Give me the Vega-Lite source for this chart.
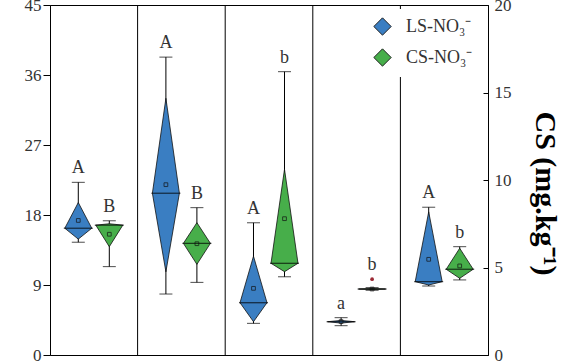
{
  "$schema": "https://vega.github.io/schema/vega-lite/v6.json",
  "autosize": "none",
  "width": 438,
  "height": 350,
  "padding": {"left": 50, "top": 5, "right": 81, "bottom": 9},
  "background": "white",
  "config": {
    "font": "Liberation Serif",
    "view": {"stroke": "black", "strokeWidth": 1},
    "axis": {"grid": false, "domainColor": "black", "tickColor": "black", "labelFont": "Liberation Serif", "labelFontSize": 17, "labelColor": "#333"}
  },
  "datasets": {
    "stats": [
      {"group": 1, "series": "LS-NO₃⁻", "min": 14.5, "q1": 14.9, "median": 16.3, "q3": 19.6, "max": 22.2, "mean": 17.3, "letter": "A", "outlier": null},
      {"group": 2, "series": "LS-NO₃⁻", "min": 7.84, "q1": 10.7, "median": 20.8, "q3": 33.0, "max": 38.3, "mean": 21.9, "letter": "A", "outlier": null},
      {"group": 3, "series": "LS-NO₃⁻", "min": 4.07, "q1": 4.28, "median": 6.72, "q3": 12.7, "max": 17.0, "mean": 8.57, "letter": "A", "outlier": null},
      {"group": 4, "series": "LS-NO₃⁻", "min": 3.77, "q1": 4.1, "median": 4.28, "q3": 4.45, "max": 4.8, "mean": 4.3, "letter": "a", "outlier": null},
      {"group": 5, "series": "LS-NO₃⁻", "min": 8.87, "q1": 9.0, "median": 9.43, "q3": 18.4, "max": 19.0, "mean": 12.3, "letter": "A", "outlier": null},
      {"group": 1, "series": "CS-NO₃⁻", "min": 5.05, "q1": 6.19, "median": 7.42, "q3": 7.5, "max": 7.67, "mean": 6.9, "letter": "B", "outlier": null},
      {"group": 2, "series": "CS-NO₃⁻", "min": 4.15, "q1": 5.18, "median": 6.38, "q3": 7.56, "max": 8.42, "mean": 6.36, "letter": "B", "outlier": null},
      {"group": 3, "series": "CS-NO₃⁻", "min": 4.47, "q1": 4.76, "median": 5.24, "q3": 10.61, "max": 16.19, "mean": 7.79, "letter": "b", "outlier": null},
      {"group": 4, "series": "CS-NO₃⁻", "min": 3.7, "q1": 3.74, "median": 3.77, "q3": 3.8, "max": 3.85, "mean": 3.77, "letter": "b", "outlier": 4.33},
      {"group": 5, "series": "CS-NO₃⁻", "min": 4.29, "q1": 4.38, "median": 4.9, "q3": 6.1, "max": 6.19, "mean": 5.09, "letter": "b", "outlier": null}
    ]
  },
  "resolve": {"scale": {"y": "independent"}},
  "layer": [
    {
      "data": {"name": "stats"},
      "transform": [
        {"filter": "datum.series == 'LS-NO₃⁻' && datum.group < 5"},
        {"calculate": "datum.group + 0.5", "as": "boundary"}
      ],
      "mark": {"type": "rule", "color": "black", "strokeWidth": 1},
      "encoding": {
        "x": {"field": "boundary", "type": "quantitative", "scale": {"domain": [0.5, 5.5], "nice": false, "zero": false},
              "axis": {"values": [1, 2, 3, 4, 5], "labels": false, "title": null, "tickSize": 9, "grid": false}}
      }
    },
    {
      "data": {"name": "stats"},
      "transform": [
        {"filter": "datum.series == 'LS-NO₃⁻'"},
        {"calculate": "datum.group - 0.177", "as": "xc"},
        {"calculate": "max(datum.max, isValid(datum.outlier) ? datum.outlier : 0)", "as": "labelY"}
      ],
      "encoding": {
        "x": {"field": "xc", "type": "quantitative", "scale": {"domain": [0.5, 5.5], "nice": false, "zero": false}, "axis": null}
      },
      "layer": [
        {
          "mark": {"type": "rule", "color": "black", "strokeWidth": 1},
          "encoding": {
            "y": {"field": "min", "type": "quantitative", "scale": {"domain": [0, 45], "nice": false, "zero": true},
                  "axis": {"orient": "left", "values": [0, 9, 18, 27, 36, 45], "title": null, "tickSize": 7, "labelPadding": 2}},
            "y2": {"field": "max"}
          }
        },
        {
          "mark": {"type": "tick", "orient": "horizontal", "size": 13, "thickness": 1, "color": "black"},
          "encoding": {"y": {"field": "min", "type": "quantitative"}}
        },
        {
          "mark": {"type": "tick", "orient": "horizontal", "size": 13, "thickness": 1, "color": "black"},
          "encoding": {"y": {"field": "max", "type": "quantitative"}}
        },
        {
          "transform": [
            {"fold": ["q1", "median", "q3"], "as": ["stat", "v"]},
            {"calculate": "datum.stat == 'median' ? 0.154 : 0", "as": "hw"},
            {"calculate": "datum.xc - datum.hw", "as": "lo"},
            {"calculate": "datum.xc + datum.hw", "as": "hi"}
          ],
          "mark": {"type": "area", "stroke": "#111", "strokeWidth": 0.8, "fillOpacity": 1},
          "encoding": {
            "x": {"field": "lo", "type": "quantitative", "axis": null},
            "x2": {"field": "hi"},
            "y": {"field": "v", "type": "quantitative"},
            "detail": {"field": "group", "type": "nominal"},
            "color": {"field": "series", "type": "nominal",
                      "scale": {"domain": ["LS-NO₃⁻", "CS-NO₃⁻"], "range": ["#3a7ec2", "#47ae4a"]},
                      "legend": {"title": null, "orient": "none", "legendX": 315, "legendY": 4, "symbolType": "diamond", "symbolSize": 300,
                                 "symbolStrokeColor": "#222", "symbolStrokeWidth": 1, "labelFont": "Liberation Serif", "labelFontSize": 18,
                                 "labelColor": "#333", "rowPadding": 8, "padding": 8, "fillColor": "white", "labelOffset": 14}}
          }
        },
        {
          "mark": {"type": "tick", "orient": "horizontal", "size": 29, "thickness": 1.2, "color": "black"},
          "encoding": {"y": {"field": "median", "type": "quantitative"}}
        },
        {
          "mark": {"type": "point", "shape": "square", "size": 14, "filled": false, "stroke": "#111", "strokeWidth": 1},
          "encoding": {"y": {"field": "mean", "type": "quantitative"}}
        },
        {
          "mark": {"type": "text", "font": "Liberation Serif", "fontSize": 18, "color": "#333", "baseline": "alphabetic", "dy": -9},
          "encoding": {"y": {"field": "labelY", "type": "quantitative"}, "text": {"field": "letter"}}
        }
      ]
    },
    {
      "data": {"name": "stats"},
      "transform": [
        {"filter": "datum.series == 'CS-NO₃⁻'"},
        {"calculate": "datum.group + 0.177", "as": "xc"},
        {"calculate": "max(datum.max, isValid(datum.outlier) ? datum.outlier : 0)", "as": "labelY"}
      ],
      "encoding": {
        "x": {"field": "xc", "type": "quantitative", "scale": {"domain": [0.5, 5.5], "nice": false, "zero": false}, "axis": null}
      },
      "layer": [
        {
          "mark": {"type": "rule", "color": "black", "strokeWidth": 1},
          "encoding": {
            "y": {"field": "min", "type": "quantitative", "scale": {"domain": [0, 20], "nice": false, "zero": true},
                  "axis": {"orient": "right", "values": [0, 5, 10, 15, 20], "title": "CS (mg.kg⁻¹)", "tickSize": -5, "labelPadding": 11,
                           "titleFont": "Liberation Serif", "titleFontSize": 30, "titleFontWeight": "bold", "titleColor": "black", "titlePadding": 18, "titleY": 188}},
            "y2": {"field": "max"}
          }
        },
        {
          "mark": {"type": "tick", "orient": "horizontal", "size": 13, "thickness": 1, "color": "black"},
          "encoding": {"y": {"field": "min", "type": "quantitative"}}
        },
        {
          "mark": {"type": "tick", "orient": "horizontal", "size": 13, "thickness": 1, "color": "black"},
          "encoding": {"y": {"field": "max", "type": "quantitative"}}
        },
        {
          "transform": [
            {"fold": ["q1", "median", "q3"], "as": ["stat", "v"]},
            {"calculate": "datum.stat == 'median' ? 0.154 : 0", "as": "hw"},
            {"calculate": "datum.xc - datum.hw", "as": "lo"},
            {"calculate": "datum.xc + datum.hw", "as": "hi"}
          ],
          "mark": {"type": "area", "stroke": "#111", "strokeWidth": 0.8, "fillOpacity": 1},
          "encoding": {
            "x": {"field": "lo", "type": "quantitative", "axis": null},
            "x2": {"field": "hi"},
            "y": {"field": "v", "type": "quantitative"},
            "detail": {"field": "group", "type": "nominal"},
            "color": {"field": "series", "type": "nominal",
                      "scale": {"domain": ["LS-NO₃⁻", "CS-NO₃⁻"], "range": ["#3a7ec2", "#47ae4a"]},
                      "legend": {"title": null, "orient": "none", "legendX": 315, "legendY": 4, "symbolType": "diamond", "symbolSize": 300,
                                 "symbolStrokeColor": "#222", "symbolStrokeWidth": 1, "labelFont": "Liberation Serif", "labelFontSize": 18,
                                 "labelColor": "#333", "rowPadding": 8, "padding": 8, "fillColor": "white", "labelOffset": 14}}
          }
        },
        {
          "mark": {"type": "tick", "orient": "horizontal", "size": 29, "thickness": 1.2, "color": "black"},
          "encoding": {"y": {"field": "median", "type": "quantitative"}}
        },
        {
          "mark": {"type": "point", "shape": "square", "size": 14, "filled": false, "stroke": "#111", "strokeWidth": 1},
          "encoding": {"y": {"field": "mean", "type": "quantitative"}}
        },
        {
          "transform": [{"filter": "isValid(datum.outlier)"}],
          "mark": {"type": "point", "shape": "circle", "size": 14, "filled": true, "color": "#9c2a35", "opacity": 1},
          "encoding": {"y": {"field": "outlier", "type": "quantitative"}}
        },
        {
          "mark": {"type": "text", "font": "Liberation Serif", "fontSize": 18, "color": "#333", "baseline": "alphabetic", "dy": -9},
          "encoding": {"y": {"field": "labelY", "type": "quantitative"}, "text": {"field": "letter"}}
        }
      ]
    }
  ]
}
